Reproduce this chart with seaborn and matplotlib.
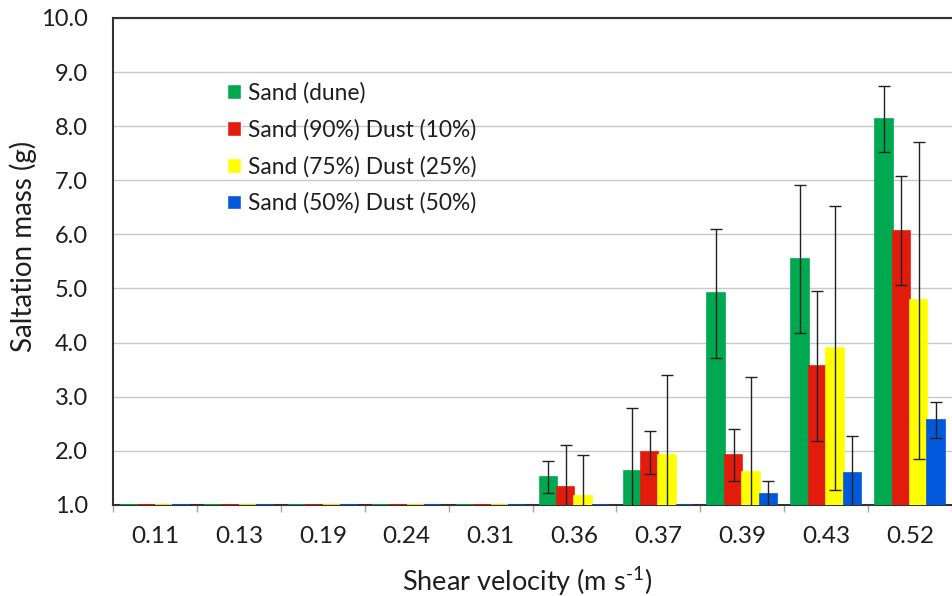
import numpy as np
import pandas as pd
import matplotlib
matplotlib.use("Agg")
import matplotlib.pyplot as plt
import seaborn as sns
from matplotlib.ticker import FuncFormatter

# Shear velocity categories (m/s)
velocity = ['0.11', '0.13', '0.19', '0.24', '0.31', '0.36', '0.37', '0.39', '0.43', '0.52']
series = ['Sand (dune)', 'Sand (90%) Dust (10%)', 'Sand (75%) Dust (25%)', 'Sand (50%) Dust (50%)']
colors = ['#00A84F', '#E31B0C', '#FFFF00', '#0058DA']

# Saltation mass (g), values at or below 1.0 sit on the axis
dune = [0, 0, 0, 0, 0, 1.52, 1.62, 4.91, 5.55, 8.13]
sd10 = [0, 0, 0, 0, 0, 1.33, 1.97, 1.92, 3.57, 6.07]
sd25 = [0, 0, 0, 0, 0, 1.16, 1.92, 1.61, 3.90, 4.78]
sd50 = [0, 0, 0, 0, 0, 0.90, 0.90, 1.20, 1.59, 2.57]

# standard deviations
dune_sd = [0, 0, 0, 0, 0, 0.30, 1.17, 1.19, 1.37, 0.61]
sd10_sd = [0, 0, 0, 0, 0, 0.78, 0.39, 0.48, 1.39, 1.00]
sd25_sd = [0, 0, 0, 0, 0, 0.77, 1.48, 1.76, 2.62, 2.93]
sd50_sd = [0, 0, 0, 0, 0, 0, 0, 0.25, 0.68, 0.33]

base = 1.0  # axis crosses at 1.0, bars grow from there

df = pd.DataFrame({
    'velocity': velocity * 4,
    'series': np.repeat(series, len(velocity)),
    'mass': dune + sd10 + sd25 + sd50,
    'sd': dune_sd + sd10_sd + sd25_sd + sd50_sd,
})
df['height'] = np.clip(df['mass'] - base, 0, None)

sns.set_style('white')
plt.rcParams['font.family'] = ['Lato', 'DejaVu Sans']
plt.rcParams['mathtext.fontset'] = 'custom'
plt.rcParams['mathtext.rm'] = 'Lato'

txt = '#1E1E1E'

fig = plt.figure(figsize=(9.52, 5.96), dpi=100)
ax = fig.add_axes([0.1187, 0.1527, 0.8813, 0.8173])

sns.barplot(data=df, x='velocity', y='height', hue='series', order=velocity,
            hue_order=series, palette=colors, width=0.83, gap=0,
            errorbar=None, saturation=1, ax=ax, zorder=3)

# colour the edges so empty bars show as a line on the axis, add error bars
for cont, s in zip(ax.containers, series):
    sub = df[df['series'] == s]
    xs = []
    for bar in cont:
        bar.set_edgecolor(bar.get_facecolor())
        bar.set_linewidth(1.2)
        xs.append(bar.get_x() + bar.get_width() / 2)
    xs = np.array(xs)
    h = sub['height'].values
    e = sub['sd'].values
    m = e > 0
    ax.errorbar(xs[m], h[m], yerr=e[m], fmt='none', ecolor='#222222',
                elinewidth=1.0, capsize=4.5, capthick=1.0, zorder=4)

ax.set_ylim(0, 9)
ax.set_yticks(np.arange(0, 10, 1))
ax.yaxis.set_major_formatter(FuncFormatter(lambda v, p: f'{v + base:.1f}'))
ax.set_xlim(-0.5, 9.43)
ax.set_xticks(np.arange(-0.5, len(velocity), 1), minor=True)

ax.grid(axis='y', color='#C8C8C8', linewidth=1.0, zorder=0)
ax.set_axisbelow(True)
for side in ['left', 'bottom', 'top']:
    ax.spines[side].set_color('#333333')
    ax.spines[side].set_linewidth(1.5)
ax.spines['right'].set_visible(False)

ax.tick_params(axis='y', length=0, labelsize=17, pad=18, colors=txt)
ax.tick_params(axis='x', which='major', direction='out', length=5, width=1,
               color='#A6A6A6', labelsize=17.5, pad=10, labelcolor=txt)
ax.tick_params(axis='x', which='minor', direction='out', length=5, width=1,
               color='#A6A6A6', bottom=True)

ax.set_ylabel('Saltation mass (g)', fontsize=20, color=txt)
ax.set_xlabel('Shear velocity (m s$^{\\text{-1}}$)', fontsize=19.5, color=txt)
ax.yaxis.set_label_coords(-0.09, 0.53)
ax.xaxis.set_label_coords(0.493, -0.122)

leg = ax.legend(loc='upper left', bbox_to_anchor=(0.136, 0.868), frameon=False,
                fontsize=16.4, handlelength=0.62, handleheight=0.62,
                handletextpad=0.3, labelspacing=0.67, borderpad=0,
                borderaxespad=0)
for t in leg.get_texts():
    t.set_color(txt)

fig.savefig('out.png', dpi=100)
